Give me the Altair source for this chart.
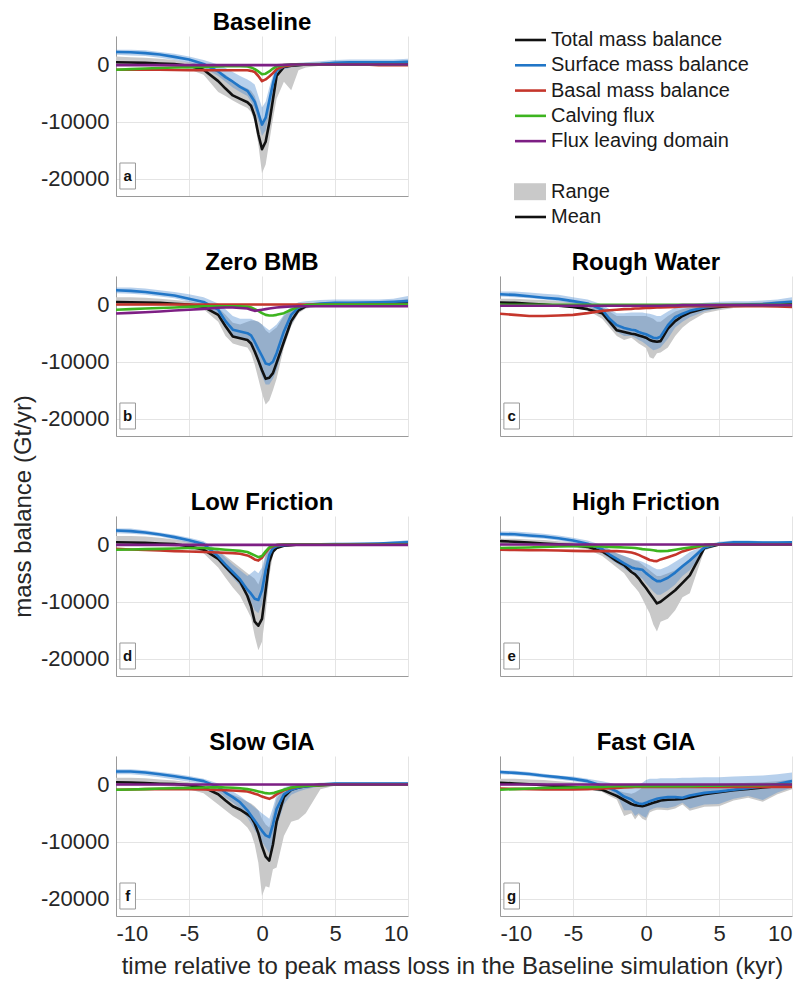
import altair as alt
import pandas as pd

FONT = "Liberation Sans"

# time axis (kyr relative to Baseline peak mass loss)
T = [-10, -9, -8, -7, -6, -5, -4, -3, -2.5, -2, -1.5, -1, -0.75, -0.5, -0.25, 0,
     0.25, 0.5, 0.75, 1, 1.5, 2, 2.5, 3, 4, 5, 6, 7, 8, 9, 10]

# all series values below are in thousands of Gt/yr
# ---- a: Baseline
A_TOTAL = [0.4, 0.35, 0.3, 0.2, 0.1, -0.2, -0.9, -2.9, -4.2, -5.4, -6.0, -6.6, -7.2, -9.0, -12.2, -14.8, -13.5, -10.2, -6.1, -2.0, -0.4, -0.2, -0.1, 0.0, 0.0, 0.05, 0.1, 0.1, 0.1, 0.1, 0.2]
A_TOTAL_LO = [0.0, 0.0, -0.1, -0.2, -0.4, -0.8, -1.8, -4.8, -5.5, -6.3, -7.0, -7.6, -8.3, -10.0, -14.0, -19.0, -17.5, -13.5, -9.5, -6.0, -3.0, -4.5, -1.0, -0.5, -0.2, -0.1, -0.1, -0.1, -0.1, -0.1, -0.1]
A_TOTAL_HI = [1.4, 1.3, 1.2, 1.0, 0.8, 0.4, 0.0, -1.0, -1.8, -2.8, -3.6, -4.2, -4.6, -5.5, -7.5, -10.5, -9.0, -6.0, -2.5, -0.5, 0.0, 0.1, 0.2, 0.3, 0.4, 0.5, 0.6, 0.6, 0.6, 0.6, 0.7]
A_SMB = [2.2, 2.15, 2.0, 1.75, 1.35, 0.9, 0.1, -1.2, -2.2, -3.0, -3.9, -4.6, -5.5, -6.5, -8.5, -10.5, -9.3, -6.3, -3.3, -1.0, -0.3, -0.1, 0.0, 0.0, 0.1, 0.3, 0.4, 0.4, 0.4, 0.4, 0.5]
A_SMB_LO = [1.7, 1.6, 1.5, 1.2, 0.8, 0.3, -0.5, -2.0, -3.0, -4.0, -4.8, -5.5, -6.5, -7.8, -10.0, -12.5, -11.5, -8.5, -5.0, -2.0, -0.8, -0.5, -0.3, -0.2, -0.1, 0.0, 0.1, 0.1, 0.1, 0.1, 0.2]
A_SMB_HI = [2.6, 2.6, 2.5, 2.2, 1.9, 1.4, 0.8, 0.0, -0.6, -1.3, -2.0, -2.6, -3.0, -3.5, -5.5, -7.5, -6.5, -4.0, -1.8, -0.3, 0.1, 0.2, 0.3, 0.4, 0.6, 0.8, 0.9, 0.9, 0.9, 0.9, 1.0]
A_BMB = [-0.9, -0.9, -0.9, -0.9, -0.95, -1.0, -1.0, -1.0, -1.0, -1.0, -1.0, -1.0, -1.1, -1.3, -2.0, -2.9, -2.6, -2.1, -1.5, -0.8, -0.3, -0.1, 0.0, 0.0, 0.0, 0.0, 0.0, 0.0, -0.1, -0.1, -0.1]
A_CALV = [-0.9, -0.8, -0.7, -0.6, -0.5, -0.45, -0.4, -0.35, -0.3, -0.3, -0.3, -0.35, -0.5, -0.8, -1.2, -1.7, -1.6, -1.2, -0.7, -0.3, -0.1, 0.0, 0.0, 0.0, 0.0, 0.0, 0.0, 0.0, 0.0, 0.0, 0.0]
A_FLUX = [-0.1, -0.1, -0.1, -0.1, -0.1, -0.1, -0.1, -0.1, -0.1, -0.1, -0.1, -0.1, -0.1, -0.1, -0.1, -0.1, -0.1, -0.1, -0.1, -0.1, -0.05, 0.0, 0.0, 0.0, 0.0, 0.0, 0.0, 0.0, 0.0, 0.0, 0.0]

# ---- b: Zero BMB
B_TOTAL = [0.45, 0.4, 0.35, 0.3, 0.15, 0.0, -0.4, -1.8, -3.8, -5.6, -5.9, -6.2, -6.8, -8.2, -9.8, -11.5, -13.0, -12.8, -12.0, -10.2, -6.5, -2.9, -1.0, -0.3, 0.0, 0.1, 0.1, 0.1, 0.1, 0.2, 0.3]
B_TOTAL_LO = [0.0, 0.0, 0.0, -0.1, -0.2, -0.4, -0.8, -3.0, -5.5, -6.8, -7.2, -7.5, -8.5, -10.5, -13.0, -15.5, -17.5, -16.8, -15.0, -13.0, -7.5, -3.8, -1.5, -0.7, -0.3, -0.2, -0.1, -0.1, -0.1, -0.1, 0.0]
B_TOTAL_HI = [1.3, 1.3, 1.2, 1.0, 0.8, 0.6, 0.2, -0.5, -1.8, -3.2, -3.5, -3.0, -2.8, -2.8, -3.0, -3.5, -4.5, -5.0, -4.5, -4.0, -2.0, -0.8, -0.2, 0.0, 0.3, 0.5, 0.5, 0.5, 0.5, 0.6, 1.0]
B_SMB = [2.5, 2.4, 2.2, 1.9, 1.6, 1.0, 0.45, -0.9, -2.9, -4.4, -4.7, -5.0, -5.4, -6.5, -7.8, -9.0, -10.3, -10.5, -10.0, -8.5, -4.7, -1.8, -0.5, -0.1, 0.2, 0.3, 0.3, 0.35, 0.4, 0.5, 0.6]
B_SMB_LO = [2.0, 1.9, 1.7, 1.4, 1.1, 0.5, -0.1, -1.8, -4.0, -5.5, -6.0, -6.3, -7.0, -8.5, -10.5, -12.5, -14.0, -14.0, -13.0, -11.5, -7.0, -3.5, -1.3, -0.5, -0.2, -0.1, 0.0, 0.0, 0.0, 0.0, 0.0]
B_SMB_HI = [3.0, 3.0, 2.8, 2.5, 2.2, 1.8, 1.3, 0.2, -0.8, -2.0, -2.5, -2.5, -2.5, -2.8, -3.0, -3.5, -4.0, -4.5, -4.0, -3.5, -1.8, -0.3, 0.4, 0.6, 0.8, 0.9, 0.9, 0.9, 0.9, 1.0, 1.5]
B_BMB = [0.0, 0.0, 0.0, 0.0, 0.0, 0.0, 0.0, 0.0, 0.0, 0.0, 0.0, 0.0, 0.0, 0.0, 0.0, 0.0, 0.0, 0.0, 0.0, 0.0, 0.0, 0.0, 0.0, 0.0, 0.0, 0.0, 0.0, 0.0, 0.0, 0.0, 0.0]
B_CALV = [-0.9, -0.8, -0.7, -0.6, -0.5, -0.4, -0.3, -0.3, -0.3, -0.3, -0.3, -0.4, -0.5, -0.8, -1.1, -1.5, -1.8, -1.9, -1.9, -1.8, -1.5, -0.9, -0.4, -0.1, 0.0, 0.0, 0.0, 0.0, 0.0, 0.0, 0.0]
B_FLUX = [-1.55, -1.45, -1.35, -1.2, -1.05, -0.9, -0.75, -0.55, -0.5, -0.5, -0.6, -0.7, -0.9, -1.1, -1.0, -0.9, -0.8, -0.7, -0.6, -0.5, -0.4, -0.35, -0.3, -0.3, -0.3, -0.3, -0.3, -0.3, -0.3, -0.3, -0.3]

# ---- c: Rough Water
C_TOTAL = [0.35, 0.3, 0.15, 0.0, -0.2, -0.4, -0.8, -1.5, -3.0, -4.5, -4.8, -5.1, -5.2, -5.4, -5.6, -5.8, -6.2, -6.4, -6.5, -6.4, -4.2, -2.9, -2.0, -1.4, -0.7, -0.4, -0.2, -0.1, 0.0, 0.1, 0.2]
C_TOTAL_LO = [0.0, 0.0, -0.1, -0.2, -0.4, -0.6, -1.0, -2.5, -4.0, -5.5, -6.2, -5.8, -6.3, -6.8, -7.2, -7.6, -9.2, -9.5, -8.5, -8.4, -7.5, -5.5, -4.0, -3.0, -1.5, -1.0, -0.6, -0.4, -0.2, -0.1, 0.0]
C_TOTAL_HI = [1.0, 1.0, 0.9, 0.8, 0.6, 0.4, 0.1, -0.4, -1.2, -2.0, -2.0, -2.0, -2.0, -2.0, -2.0, -2.0, -2.2, -2.5, -3.0, -3.0, -2.0, -1.2, -0.8, -0.5, 0.0, 0.2, 0.3, 0.3, 0.4, 0.6, 0.8]
C_SMB = [1.8, 1.7, 1.45, 1.2, 1.0, 0.6, 0.2, -0.9, -2.5, -3.6, -4.1, -4.4, -4.5, -4.8, -5.0, -5.2, -5.5, -5.8, -5.9, -5.6, -3.6, -2.2, -1.6, -1.1, -0.5, -0.2, -0.1, 0.0, 0.1, 0.3, 0.5]
C_SMB_LO = [1.4, 1.3, 1.1, 0.9, 0.6, 0.2, -0.3, -1.8, -3.5, -4.8, -5.5, -5.5, -5.8, -6.2, -6.5, -7.0, -7.5, -8.0, -7.8, -7.5, -6.0, -4.0, -3.0, -2.2, -1.2, -0.7, -0.4, -0.2, -0.1, 0.0, 0.1]
C_SMB_HI = [2.3, 2.3, 2.1, 1.9, 1.7, 1.3, 0.9, 0.0, -0.8, -1.5, -1.5, -1.4, -1.4, -1.4, -1.4, -1.5, -1.6, -1.8, -2.0, -2.0, -1.2, -0.5, -0.2, 0.0, 0.3, 0.5, 0.6, 0.6, 0.7, 0.9, 1.3]
C_BMB = [-1.6, -1.8, -2.0, -2.0, -1.9, -1.8, -1.5, -1.1, -1.0, -0.9, -0.8, -0.75, -0.7, -0.7, -0.65, -0.6, -0.6, -0.55, -0.5, -0.5, -0.45, -0.4, -0.35, -0.3, -0.3, -0.3, -0.3, -0.3, -0.3, -0.35, -0.4]
C_CALV = [-0.05, -0.05, -0.05, -0.05, -0.05, -0.05, -0.05, -0.05, -0.05, -0.05, -0.05, -0.05, -0.05, -0.05, -0.05, -0.05, -0.05, -0.05, -0.05, -0.05, -0.05, -0.05, -0.05, -0.05, -0.05, -0.05, -0.05, -0.05, -0.05, -0.05, -0.05]
C_FLUX = [-0.2, -0.2, -0.2, -0.2, -0.2, -0.2, -0.2, -0.2, -0.2, -0.2, -0.2, -0.2, -0.2, -0.2, -0.2, -0.2, -0.2, -0.2, -0.2, -0.2, -0.15, -0.15, -0.1, -0.1, -0.1, -0.1, -0.1, -0.1, -0.1, -0.1, -0.1]

# ---- d: Low Friction
D_TOTAL = [0.4, 0.35, 0.3, 0.2, 0.1, -0.3, -0.9, -2.5, -3.9, -5.2, -6.5, -9.0, -10.8, -13.5, -14.2, -13.0, -8.0, -3.0, -1.2, -0.6, -0.2, -0.1, 0.0, 0.0, 0.0, 0.0, 0.0, 0.0, 0.0, 0.05, 0.1]
D_TOTAL_LO = [0.0, 0.0, -0.1, -0.2, -0.4, -0.8, -1.5, -4.0, -5.8, -7.5, -9.0, -11.5, -12.8, -16.0, -18.5, -17.0, -12.0, -5.5, -1.8, -0.8, -0.3, -0.1, -0.1, 0.0, 0.0, 0.0, 0.0, 0.0, 0.0, 0.0, 0.0]
D_TOTAL_HI = [1.5, 1.5, 1.4, 1.2, 0.9, 0.5, 0.0, -1.0, -2.0, -3.0, -4.0, -5.0, -5.5, -6.0, -7.0, -5.0, -2.0, -0.5, 0.0, 0.0, 0.1, 0.1, 0.1, 0.1, 0.1, 0.15, 0.2, 0.2, 0.3, 0.4, 0.6]
D_SMB = [2.45, 2.35, 2.1, 1.75, 1.3, 0.75, 0.1, -2.1, -3.5, -4.8, -6.1, -7.9, -8.6, -9.5, -9.7, -8.0, -4.5, -1.8, -0.6, -0.3, -0.1, 0.0, 0.0, 0.0, 0.05, 0.1, 0.1, 0.15, 0.2, 0.3, 0.4]
D_SMB_LO = [2.0, 1.9, 1.7, 1.4, 0.9, 0.3, -0.4, -2.8, -4.3, -5.8, -7.2, -9.0, -10.0, -11.5, -12.0, -10.5, -6.5, -2.8, -1.0, -0.5, -0.2, -0.1, -0.1, 0.0, 0.0, 0.0, 0.0, 0.0, 0.0, 0.1, 0.2]
D_SMB_HI = [2.8, 2.8, 2.5, 2.1, 1.7, 1.2, 0.6, -1.0, -2.3, -3.5, -4.5, -5.5, -5.0, -4.5, -5.0, -4.0, -1.5, -0.3, 0.1, 0.1, 0.15, 0.15, 0.2, 0.2, 0.2, 0.25, 0.3, 0.3, 0.4, 0.5, 0.8]
D_BMB = [-0.75, -0.85, -0.95, -1.05, -1.15, -1.2, -1.3, -1.4, -1.45, -1.5, -1.6, -1.9, -2.2, -2.6, -2.8, -2.3, -1.4, -0.6, -0.3, -0.1, 0.0, 0.0, 0.0, 0.0, 0.0, 0.0, 0.0, 0.0, 0.0, 0.0, 0.0]
D_CALV = [-0.9, -0.85, -0.8, -0.75, -0.7, -0.6, -0.6, -0.8, -0.9, -1.0, -1.1, -1.3, -1.6, -1.9, -2.2, -2.0, -1.2, -0.5, -0.2, -0.1, 0.0, 0.0, 0.0, 0.0, 0.0, 0.0, 0.0, 0.0, 0.0, 0.0, 0.0]
D_FLUX = [-0.05, -0.05, -0.05, -0.05, -0.05, -0.05, -0.05, -0.05, -0.05, -0.05, -0.05, -0.05, -0.05, -0.05, -0.05, -0.05, -0.05, -0.05, -0.05, -0.05, -0.05, -0.05, -0.05, -0.05, -0.05, -0.05, -0.05, -0.05, -0.05, -0.05, -0.05]

# ---- e: High Friction
E_TOTAL = [0.6, 0.5, 0.35, 0.2, 0.05, -0.1, -0.4, -1.2, -2.0, -2.9, -3.6, -4.8, -5.2, -5.9, -6.8, -7.6, -8.5, -9.4, -10.3, -10.0, -9.0, -8.0, -6.7, -5.4, -0.6, 0.0, 0.0, 0.0, 0.0, 0.0, 0.1]
E_TOTAL_LO = [0.1, 0.0, -0.1, -0.2, -0.3, -0.5, -0.8, -2.0, -3.0, -4.0, -5.0, -6.8, -7.5, -8.3, -9.5, -10.8, -12.0, -14.0, -15.2, -13.5, -13.0, -11.5, -9.2, -8.5, -1.0, -0.2, -0.1, -0.1, -0.1, -0.1, 0.0]
E_TOTAL_HI = [1.0, 1.0, 0.9, 0.8, 0.6, 0.4, 0.1, -0.4, -0.8, -1.5, -2.0, -2.5, -2.8, -3.0, -3.5, -4.0, -4.5, -5.0, -5.5, -5.5, -5.0, -4.5, -3.5, -2.5, 0.0, 0.2, 0.3, 0.3, 0.3, 0.3, 0.4]
E_SMB = [1.85, 1.8, 1.6, 1.4, 1.1, 0.7, 0.15, -0.8, -1.75, -2.5, -3.3, -4.0, -4.2, -4.3, -4.4, -5.0, -5.5, -6.0, -6.4, -6.4, -5.8, -4.9, -3.8, -2.8, -0.5, 0.15, 0.4, 0.4, 0.35, 0.35, 0.4]
E_SMB_LO = [1.5, 1.4, 1.2, 1.0, 0.7, 0.3, -0.3, -1.5, -2.5, -3.3, -4.2, -5.0, -5.3, -5.6, -6.0, -6.8, -7.5, -8.2, -8.8, -8.8, -8.0, -7.0, -5.5, -4.5, -1.0, 0.0, 0.2, 0.2, 0.2, 0.2, 0.2]
E_SMB_HI = [2.3, 2.3, 2.1, 1.9, 1.6, 1.2, 0.7, -0.1, -0.8, -1.5, -2.0, -2.5, -2.7, -2.8, -3.0, -3.3, -3.6, -4.0, -4.3, -4.3, -3.8, -3.0, -2.2, -1.3, -0.1, 0.5, 0.7, 0.7, 0.6, 0.6, 0.6]
E_BMB = [-0.9, -0.95, -1.0, -1.0, -1.05, -1.1, -1.15, -1.15, -1.15, -1.15, -1.2, -1.4, -1.55, -1.8, -2.1, -2.4, -2.7, -2.85, -2.9, -2.6, -2.2, -1.8, -1.2, -0.8, -0.1, 0.0, 0.0, 0.0, 0.0, 0.0, 0.0]
E_CALV = [-0.6, -0.55, -0.5, -0.4, -0.35, -0.3, -0.3, -0.35, -0.4, -0.45, -0.5, -0.55, -0.6, -0.7, -0.8, -0.85, -0.9, -1.0, -1.1, -1.15, -1.1, -0.9, -0.7, -0.5, -0.1, 0.0, 0.0, 0.0, 0.0, 0.0, 0.0]
E_FLUX = [0.0, 0.0, 0.0, 0.0, 0.0, 0.0, 0.0, 0.0, 0.0, 0.0, 0.0, 0.0, 0.0, 0.0, 0.0, 0.0, 0.0, 0.0, 0.0, 0.0, 0.0, 0.0, 0.0, 0.0, 0.0, 0.0, 0.0, 0.0, 0.0, 0.0, 0.0]

# ---- f: Slow GIA
F_TOTAL = [0.4, 0.35, 0.25, 0.15, 0.1, -0.1, -0.5, -1.7, -2.8, -3.8, -4.4, -5.2, -5.7, -6.8, -8.5, -10.8, -12.6, -13.3, -10.5, -6.5, -2.2, -0.9, -0.5, -0.3, -0.1, 0.0, 0.05, 0.05, 0.05, 0.05, 0.05]
F_TOTAL_LO = [0.0, 0.0, -0.1, -0.2, -0.4, -0.8, -1.5, -3.5, -4.5, -5.5, -6.3, -7.5, -8.5, -10.5, -13.7, -19.5, -17.8, -18.0, -14.8, -14.5, -9.0, -6.5, -6.1, -5.0, -0.8, -0.2, -0.1, -0.1, -0.1, -0.1, -0.1]
F_TOTAL_HI = [1.2, 1.2, 1.1, 0.9, 0.7, 0.4, 0.0, -0.8, -1.3, -1.8, -2.3, -3.0, -3.3, -3.8, -4.5, -6.0, -7.0, -7.5, -5.0, -2.5, -0.8, -0.3, -0.1, 0.0, 0.2, 0.3, 0.3, 0.3, 0.3, 0.3, 0.3]
F_SMB = [2.3, 2.3, 2.1, 1.8, 1.45, 1.05, 0.6, -0.4, -1.4, -2.2, -3.1, -4.5, -5.4, -6.3, -7.2, -8.1, -8.9, -9.2, -7.0, -4.3, -1.7, -0.9, -0.5, -0.3, 0.0, 0.2, 0.2, 0.2, 0.2, 0.2, 0.2]
F_SMB_LO = [1.8, 1.8, 1.6, 1.3, 0.9, 0.5, 0.0, -1.2, -2.3, -3.2, -4.2, -5.8, -6.8, -8.0, -9.0, -10.0, -11.0, -12.0, -10.5, -7.5, -3.5, -1.8, -1.2, -0.8, -0.3, 0.0, 0.0, 0.0, 0.0, 0.0, 0.0]
F_SMB_HI = [2.7, 2.7, 2.5, 2.2, 1.9, 1.5, 1.0, 0.2, -0.5, -1.2, -2.0, -3.0, -3.5, -4.0, -4.5, -5.0, -5.5, -6.0, -4.0, -1.8, -0.5, -0.1, 0.0, 0.1, 0.3, 0.4, 0.4, 0.4, 0.4, 0.4, 0.4]
F_BMB = [-0.9, -0.85, -0.8, -0.8, -0.75, -0.8, -0.85, -0.95, -1.0, -1.05, -1.1, -1.2, -1.4, -1.6, -1.8, -2.1, -2.3, -2.5, -2.2, -1.7, -1.0, -0.6, -0.35, -0.2, -0.05, 0.0, 0.0, 0.0, 0.0, 0.0, 0.0]
F_CALV = [-0.9, -0.85, -0.8, -0.7, -0.65, -0.6, -0.5, -0.45, -0.5, -0.55, -0.65, -0.8, -0.9, -1.05, -1.2, -1.35, -1.5, -1.55, -1.5, -1.3, -0.9, -0.5, -0.35, -0.25, -0.1, 0.0, 0.0, 0.0, 0.0, 0.0, 0.0]
F_FLUX = [0.0, 0.0, 0.0, 0.0, 0.0, 0.0, 0.0, 0.0, 0.0, 0.0, 0.0, 0.0, 0.0, 0.0, 0.0, 0.0, 0.0, 0.0, 0.0, 0.0, 0.0, 0.0, 0.0, 0.0, 0.0, 0.0, 0.0, 0.0, 0.0, 0.0, 0.0]

# ---- g: Fast GIA
G_TOTAL = [0.3, 0.2, 0.05, -0.1, -0.25, -0.45, -0.65, -0.9, -1.45, -2.0, -2.7, -3.4, -3.6, -3.7, -3.8, -3.6, -3.4, -3.2, -3.0, -2.8, -2.65, -2.6, -2.5, -2.25, -1.7, -1.35, -1.0, -0.75, -0.5, -0.3, -0.2]
G_TOTAL_LO = [0.0, 0.0, -0.1, -0.2, -0.4, -0.6, -0.8, -1.3, -2.0, -2.6, -5.5, -5.0, -6.1, -5.3, -6.0, -6.3, -4.9, -4.6, -4.4, -4.4, -4.5, -4.2, -3.5, -4.6, -3.9, -3.8, -2.8, -2.3, -3.0, -1.7, -0.8]
G_TOTAL_HI = [1.0, 1.0, 0.9, 0.8, 0.6, 0.4, 0.2, -0.2, -0.6, -1.0, -1.4, -1.6, -1.4, -1.0, -0.5, -0.2, 0.0, 0.0, 0.0, 0.0, 0.0, 0.0, 0.1, 0.1, 0.1, 0.1, 0.2, 0.3, 0.4, 0.6, 0.9]
G_SMB = [2.2, 2.05, 1.85, 1.55, 1.3, 1.0, 0.6, -0.2, -0.6, -1.2, -2.1, -2.6, -3.1, -3.3, -3.4, -3.2, -2.9, -2.7, -2.5, -2.35, -2.2, -2.2, -2.3, -1.9, -1.45, -1.2, -0.9, -0.65, -0.35, 0.1, 0.6]
G_SMB_LO = [1.8, 1.7, 1.5, 1.2, 0.9, 0.6, 0.2, -0.6, -1.1, -1.8, -4.5, -4.5, -5.5, -5.0, -5.5, -5.8, -4.5, -4.2, -4.0, -4.0, -4.1, -3.8, -3.2, -4.2, -3.5, -3.4, -2.5, -2.0, -2.7, -1.4, -0.5]
G_SMB_HI = [2.5, 2.4, 2.2, 1.9, 1.6, 1.4, 1.0, 0.6, 0.3, 0.0, -0.3, -0.3, -0.2, 0.0, 0.3, 0.8, 1.0, 1.0, 1.0, 1.1, 1.1, 1.1, 1.2, 1.2, 1.3, 1.3, 1.4, 1.5, 1.6, 1.8, 2.1]
G_BMB = [-0.7, -0.75, -0.8, -0.85, -0.85, -0.85, -0.8, -0.7, -0.65, -0.6, -0.5, -0.45, -0.4, -0.4, -0.4, -0.4, -0.4, -0.4, -0.4, -0.4, -0.4, -0.4, -0.4, -0.4, -0.4, -0.4, -0.4, -0.4, -0.4, -0.4, -0.4]
G_CALV = [-0.9, -0.8, -0.7, -0.6, -0.55, -0.5, -0.45, -0.4, -0.35, -0.3, -0.3, -0.3, -0.3, -0.3, -0.3, -0.3, -0.3, -0.3, -0.3, -0.3, -0.3, -0.3, -0.3, -0.3, -0.2, -0.2, -0.1, -0.1, -0.1, 0.0, 0.0]
G_FLUX = [0.0, 0.0, 0.0, 0.0, 0.0, 0.0, 0.0, 0.0, 0.0, 0.0, 0.0, 0.0, 0.0, 0.0, 0.0, 0.0, 0.0, 0.0, 0.0, 0.0, 0.0, 0.0, 0.0, 0.0, 0.0, 0.0, 0.0, 0.0, 0.0, 0.0, 0.0]

PANEL_TITLES = ["Baseline", "Zero BMB", "Rough Water", "Low Friction", "High Friction", "Slow GIA", "Fast GIA"]
PANEL_LETTERS = ["a", "b", "c", "d", "e", "f", "g"]
PANEL_DATA = [
    (A_TOTAL, A_TOTAL_LO, A_TOTAL_HI, A_SMB, A_SMB_LO, A_SMB_HI, A_BMB, A_CALV, A_FLUX),
    (B_TOTAL, B_TOTAL_LO, B_TOTAL_HI, B_SMB, B_SMB_LO, B_SMB_HI, B_BMB, B_CALV, B_FLUX),
    (C_TOTAL, C_TOTAL_LO, C_TOTAL_HI, C_SMB, C_SMB_LO, C_SMB_HI, C_BMB, C_CALV, C_FLUX),
    (D_TOTAL, D_TOTAL_LO, D_TOTAL_HI, D_SMB, D_SMB_LO, D_SMB_HI, D_BMB, D_CALV, D_FLUX),
    (E_TOTAL, E_TOTAL_LO, E_TOTAL_HI, E_SMB, E_SMB_LO, E_SMB_HI, E_BMB, E_CALV, E_FLUX),
    (F_TOTAL, F_TOTAL_LO, F_TOTAL_HI, F_SMB, F_SMB_LO, F_SMB_HI, F_BMB, F_CALV, F_FLUX),
    (G_TOTAL, G_TOTAL_LO, G_TOTAL_HI, G_SMB, G_SMB_LO, G_SMB_HI, G_BMB, G_CALV, G_FLUX),
]
# grid cell (column, row) of each panel; the legend sits in column 1, row 0
PANEL_CELLS = [(0, 0), (0, 1), (1, 1), (0, 2), (1, 2), (0, 3), (1, 3)]

SERIES = ["Total mass balance", "Surface mass balance", "Basal mass balance",
          "Calving flux", "Flux leaving domain"]
SERIES_FIELDS = ["total", "smb", "bmb", "calv", "flux"]
SERIES_COLORS = ["#111111", "#2176c7", "#c5362c", "#3db41f", "#7d1f84"]
RANGE_COLOR = "#c9c9c9"
SMB_RANGE_COLOR = "#4a8ad0"

X_TICKS = [-10, -5, 0, 5, 10]
Y_TICKS = [-20000, -10000, 0]
Y_DOMAIN = [-23000, 5000]
LABEL_T = -9.2
LABEL_V = -19500

PW, PH = 292, 160
X_TITLE = "time relative to peak mass loss in the Baseline simulation (kyr)"
Y_TITLE = "mass balance (Gt/yr)"
BOX_PATH = "M-0.3,-0.5H0.3V0.5H-0.3Z"


def kgt(values):
    return [v * 1000 for v in values]


def make_panel(i):
    col, row = PANEL_CELLS[i]
    tot, tlo, thi, smb, slo, shi, bmb, calv, flux = PANEL_DATA[i]
    df = pd.DataFrame({
        "t": T, "total": kgt(tot), "total_lo": kgt(tlo), "total_hi": kgt(thi),
        "smb": kgt(smb), "smb_lo": kgt(slo), "smb_hi": kgt(shi),
        "bmb": kgt(bmb), "calv": kgt(calv), "flux": kgt(flux),
    })
    xa = dict(values=X_TICKS, ticks=False, grid=True, labels=(row == 3),
              labelExpr="'' + datum.value", labelPadding=7, title=None)
    if row == 3 and col == 0:
        xa.update(title=X_TITLE, titleX=336, titlePadding=10)
    ya = dict(values=Y_TICKS, ticks=False, grid=True, labels=(col == 0),
              labelExpr="'' + datum.value", labelPadding=7, title=None)
    if row == 1 and col == 0:
        # the one shared y title hangs down from the Zero BMB panel
        ya.update(title=Y_TITLE, titleY=230, titlePadding=5)
    xaxis = alt.Axis(**xa)
    yaxis = alt.Axis(**ya)
    X = alt.X("t:Q", scale=alt.Scale(domain=[-10, 10], nice=False), axis=xaxis)
    ysc = alt.Scale(domain=Y_DOMAIN, nice=False, zero=False)

    def Y(f):
        return alt.Y(f + ":Q", scale=ysc, axis=yaxis)

    base = alt.Chart(df)
    layers = [
        base.mark_area(color=RANGE_COLOR, opacity=1, clip=True).encode(x=X, y=Y("total_lo"), y2="total_hi:Q"),
        base.mark_area(color=SMB_RANGE_COLOR, opacity=0.4, clip=True).encode(x=X, y=Y("smb_lo"), y2="smb_hi:Q"),
    ]
    for f, c in zip(SERIES_FIELDS, SERIES_COLORS):
        layers.append(base.mark_line(color=c, strokeWidth=2.6, strokeJoin="round", clip=True)
                      .encode(x=X, y=Y(f)))
    lab = alt.Chart(pd.DataFrame({"t": [LABEL_T], "v": [LABEL_V], "letter": [PANEL_LETTERS[i]]}))
    layers.append(lab.mark_point(shape=BOX_PATH, size=2704, filled=True, fill="white",
                                 stroke="#9a9a9a", strokeWidth=1, opacity=1)
                  .encode(x=X, y=Y("v")))
    layers.append(lab.mark_text(font=FONT, fontSize=15, fontWeight="bold", color="#111")
                  .encode(x=X, y=Y("v"), text="letter:N"))
    return alt.layer(*layers).properties(
        width=PW, height=PH,
        title=alt.TitleParams(PANEL_TITLES[i], font=FONT, fontSize=24, fontWeight="bold",
                              color="#000", offset=1, frame="group"))


# legend panel
LEG_LABELS = SERIES + ["Range", "Mean"]
LEG_IDX = [0, 1, 2, 3, 4, 6, 7]
LEG_COLORS = SERIES_COLORS + [RANGE_COLOR, "#111111"]
LEG_KIND = ["line", "line", "line", "line", "line", "patch", "line"]
leg_df = pd.DataFrame({"idx": LEG_IDX, "label": LEG_LABELS, "kind": LEG_KIND})
ly = alt.Y("idx:O", scale=alt.Scale(type="point", domain=list(range(8)), range=[4, 181], padding=0),
           axis=None)
lc = alt.Color("label:N", scale=alt.Scale(domain=LEG_LABELS, range=LEG_COLORS), legend=None)
lbase = alt.Chart(leg_df)
legend = alt.layer(
    lbase.transform_filter("datum.kind == 'line'").mark_rule(strokeWidth=2.6)
    .encode(x=alt.value(15), x2=alt.value(46), y=ly, color=lc),
    lbase.transform_filter("datum.kind == 'patch'")
    .mark_point(shape="M-1,-0.53H1V0.53H-1Z", size=1024, filled=True, opacity=1)
    .encode(x=alt.value(30), y=ly, color=lc),
    lbase.mark_text(align="left", baseline="middle", font=FONT, fontSize=20, color="#1a1a1a")
    .encode(x=alt.value(51), y=ly, text="label:N"),
).properties(width=PW, height=PH)

panels = [make_panel(i) for i in range(7)]
cells = [panels[0], legend, panels[1], panels[2], panels[3], panels[4], panels[5], panels[6]]

chart = alt.concat(*cells, columns=2, spacing={"row": 80, "column": 92}, bounds="flush").properties(
    padding={"left": 3, "top": 3, "right": 5, "bottom": 5}
).configure_view(stroke=None).configure_axis(
    domainColor="#9a9a9a", domainWidth=1, gridColor="#e4e4e4", gridWidth=1,
    labelFont=FONT, labelFontSize=22, labelColor="#262626",
    titleFont=FONT, titleFontSize=24, titleFontWeight="normal", titleColor="#262626",
)

chart.save("out.html", embed_options={"renderer": "svg", "actions": False})
